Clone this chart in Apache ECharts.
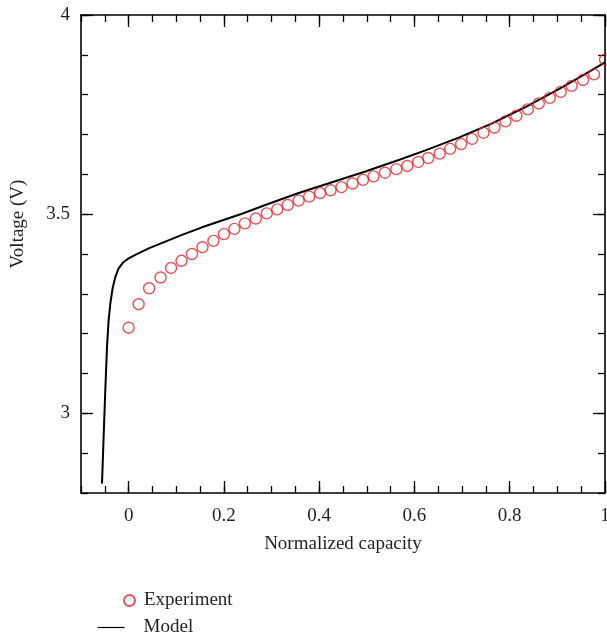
<!DOCTYPE html>
<html>
<head>
<meta charset="utf-8">
<script src="https://cdn.jsdelivr.net/npm/echarts@6/dist/echarts.min.js"></script>
<style>html,body{margin:0;padding:0;background:#fff}#c{width:607px;height:637px}</style>
</head>
<body>
<div id="c"></div>
<script>
const expX = [0, 0.021, 0.043, 0.067, 0.089, 0.111, 0.133, 0.155, 0.178, 0.200, 0.222, 0.244, 0.267, 0.290, 0.312, 0.334, 0.357, 0.379, 0.402, 0.424, 0.447, 0.470, 0.492, 0.514, 0.538, 0.562, 0.585, 0.608, 0.629, 0.653, 0.675, 0.698, 0.721, 0.745, 0.768, 0.791, 0.814, 0.838, 0.861, 0.884, 0.907, 0.930, 0.954, 0.977, 1.0];
const expV = [3.215, 3.274, 3.314, 3.341, 3.365, 3.383, 3.400, 3.417, 3.433, 3.450, 3.463, 3.477, 3.489, 3.502, 3.512, 3.523, 3.534, 3.544, 3.553, 3.560, 3.568, 3.577, 3.586, 3.595, 3.604, 3.613, 3.621, 3.631, 3.641, 3.652, 3.664, 3.676, 3.689, 3.704, 3.717, 3.733, 3.747, 3.763, 3.778, 3.792, 3.807, 3.822, 3.837, 3.851, 3.888];
const modelX = [-0.0559, -0.0525, -0.049, -0.0454, -0.042, -0.0384, -0.0336, -0.028, -0.021, -0.0105, 0, 0.014, 0.042, 0.077, 0.112, 0.154, 0.196, 0.238, 0.287, 0.357, 0.427, 0.497, 0.567, 0.623, 0.693, 0.763, 0.833, 0.903, 0.959, 1.0];
const modelV = [2.824, 2.941, 3.058, 3.167, 3.234, 3.276, 3.314, 3.342, 3.364, 3.380, 3.389, 3.398, 3.414, 3.431, 3.448, 3.467, 3.484, 3.501, 3.523, 3.553, 3.580, 3.607, 3.636, 3.660, 3.692, 3.728, 3.769, 3.814, 3.852, 3.881];
const xMajorTicks = [0, 0.2, 0.4, 0.6, 0.8, 1];
const yMajorTicks = [3, 3.5, 4];

const FONT = 'Liberation Serif';
const TXT = '#231f20';
const RED = '#e0262e';

const chart = echarts.init(document.getElementById('c'));
const line = { show: true, onZero: false, lineStyle: { color: '#000', width: 1.6 } };
const noLine = { show: false, onZero: false };
function minorX(pos, showLine) {
  return { type: 'value', position: pos, min: -0.1, max: 1, interval: 0.05,
    axisLine: showLine ? line : noLine, splitLine: { show: false },
    axisTick: { show: true, inside: true, length: 7, lineStyle: { color: '#000', width: 1.3 } },
    axisLabel: { show: false } };
}
function majorX(pos, labels) {
  return { type: 'value', position: pos, min: -0.1, max: 1,
    axisLine: noLine, splitLine: { show: false },
    axisTick: { show: true, inside: true, length: 12, customValues: xMajorTicks, lineStyle: { color: '#000', width: 1.3 } },
    axisLabel: { show: labels, customValues: xMajorTicks, margin: 14, fontFamily: FONT, fontSize: 19, color: TXT },
    name: labels ? 'Normalized capacity' : '', nameLocation: 'middle', nameGap: 42,
    nameTextStyle: { fontFamily: FONT, fontSize: 19, color: TXT } };
}
function minorY(pos, showLine) {
  return { type: 'value', position: pos, min: 2.8, max: 4, interval: 0.1,
    axisLine: showLine ? line : noLine, splitLine: { show: false },
    axisTick: { show: true, inside: true, length: 7, lineStyle: { color: '#000', width: 1.3 } },
    axisLabel: { show: false } };
}
function majorY(pos, labels) {
  return { type: 'value', position: pos, min: 2.8, max: 4,
    axisLine: noLine, splitLine: { show: false },
    axisTick: { show: true, inside: true, length: 12, customValues: yMajorTicks, lineStyle: { color: '#000', width: 1.3 } },
    axisLabel: { show: labels, customValues: yMajorTicks, margin: 11, fontFamily: FONT, fontSize: 19, color: TXT } };
}

chart.setOption({
  animation: false,
  grid: { left: 81, top: 15, right: 2, bottom: 144, containLabel: false, outerBoundsMode: 'none' },
  xAxis: [minorX('bottom', true), majorX('bottom', true), minorX('top', true), majorX('top', false)],
  yAxis: [minorY('left', true), majorY('left', true), minorY('right', true), majorY('right', false)],
  legend: [
    {
      orient: 'vertical', left: 123, top: 591, padding: 0, itemWidth: 11, itemHeight: 11,
      textStyle: { fontFamily: FONT, fontSize: 19, color: TXT, padding: [0, 0, 0, 4] },
      data: [{ name: 'Experiment' }]
    },
    {
      orient: 'vertical', left: 97, top: 618, padding: 0, itemWidth: 27, itemHeight: 11,
      textStyle: { fontFamily: FONT, fontSize: 19, color: TXT, padding: [0, 0, 0, 14] },
      data: [{ name: 'Model', itemStyle: { opacity: 0 }, lineStyle: { width: 1.2, color: '#000' } }]
    }
  ],
  graphic: [{
    type: 'text', x: 18, y: 224, rotation: Math.PI / 2,
    style: { text: 'Voltage (V)', fontFamily: FONT, fontSize: 19, fill: TXT, align: 'center', verticalAlign: 'middle' }
  }],
  series: [
    {
      name: 'Experiment', type: 'scatter', xAxisIndex: 0, yAxisIndex: 0,
      symbol: 'circle', symbolSize: 11,
      itemStyle: { color: 'rgba(255,255,255,0)', borderColor: RED, borderWidth: 1.4 },
      data: expX.map((x, i) => [x, expV[i]]), z: 3
    },
    {
      name: 'Model', type: 'line', xAxisIndex: 0, yAxisIndex: 0,
      symbol: 'none', smooth: false,
      lineStyle: { color: '#000', width: 2 },
      data: modelX.map((x, i) => [x, modelV[i]]), z: 2
    }
  ]
});
</script>
</body>
</html>
